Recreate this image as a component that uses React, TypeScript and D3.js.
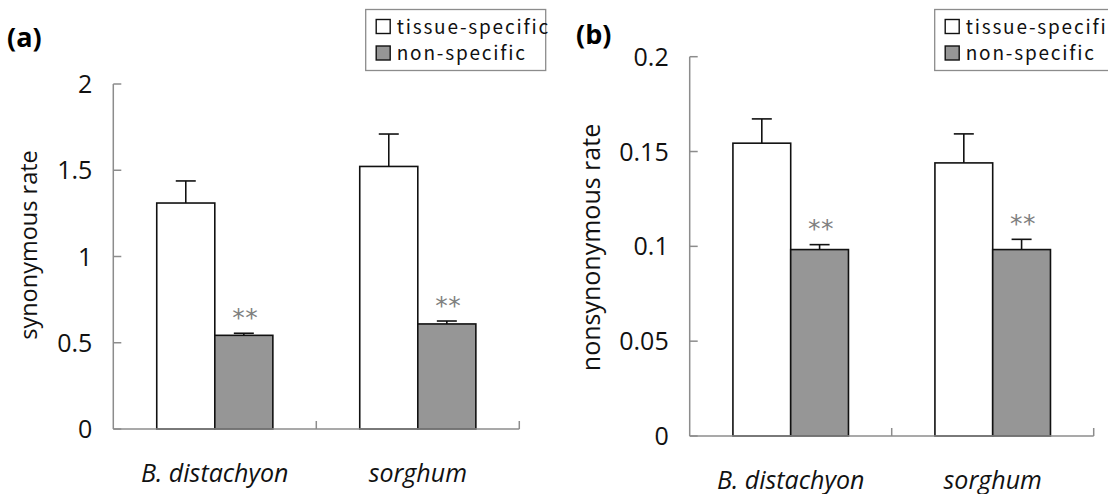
import * as d3 from "d3";

const species = ["B. distachyon", "sorghum"];
const seriesNames = ["tissue-specific", "non-specific"];
const seriesFill = ["#ffffff", "#969696"];

// synonymous rate (a)
const synTissue = [1.31, 1.522];
const synTissueErr = [0.128, 0.188];
const synNon = [0.543, 0.609];
const synNonErr = [0.012, 0.017];
const synTicks = [0, 0.5, 1, 1.5, 2];
const synTickLabels = ["0", "0.5", "1", "1.5", "2"];

// nonsynonymous rate (b)
const nonTissue = [0.1544, 0.144];
const nonTissueErr = [0.0128, 0.0153];
const nonNon = [0.0983, 0.0983];
const nonNonErr = [0.0026, 0.0054];
const nonTicks = [0, 0.05, 0.1, 0.15, 0.2];
const nonTickLabels = ["0", "0.05", "0.1", "0.15", "0.2"];

const signif = ["**", "**"];

const numFont = "'Open Sans', sans-serif";
const legendFont = "'Noto Sans CJK JP', sans-serif";

type PanelProps = {
  tag: string;
  tagX: number;
  tagY: number;
  yTitle: string;
  yTitleX: number;
  yTitleY: number;
  yTitleSize: number;
  x0: number;
  x1: number;
  y0: number;
  yTop: number;
  yMax: number;
  ticks: number[];
  tickLabels: string[];
  values: number[][];
  errors: number[][];
  legendX: number;
};

function Panel(p: PanelProps) {
  const x = d3
    .scaleBand<string>()
    .domain(species)
    .range([p.x0, p.x1])
    .paddingInner(0.428)
    .paddingOuter(0.214);
  const xs = d3
    .scaleBand<string>()
    .domain(seriesNames)
    .range([0, x.bandwidth()]);
  const y = d3.scaleLinear().domain([0, p.yMax]).range([p.y0, p.yTop]);
  const axisColor = "#8c8c8c";
  const catEdges = species.map((_, i) => p.x0 + (i + 1) * x.step());

  return (
    <g>
      <text
        x={p.tagX}
        y={p.tagY}
        fontFamily={numFont}
        fontWeight="bold"
        fontSize={27}
        fill="#000"
      >
        {p.tag}
      </text>

      {/* y axis */}
      <line x1={p.x0} x2={p.x0} y1={y(p.yMax)} y2={y(0)} stroke={axisColor} strokeWidth={1.5} />
      {p.ticks.map((t, i) => (
        <g key={t}>
          <line x1={p.x0} x2={p.x0 + 8} y1={y(t)} y2={y(t)} stroke={axisColor} strokeWidth={1.5} />
          <text
            x={p.x0 - 21}
            y={y(t)}
            dy="0.36em"
            textAnchor="end"
            fontFamily={numFont}
            fontSize={25}
            fill="#111"
          >
            {p.tickLabels[i]}
          </text>
        </g>
      ))}
      <text
        transform={`translate(${p.yTitleX},${p.yTitleY}) rotate(-90)`}
        textAnchor="middle"
        fontFamily={numFont}
        fontSize={p.yTitleSize}
        fill="#111"
      >
        {p.yTitle}
      </text>

      {/* bars */}
      {species.map((s, i) => (
        <g key={s}>
          {seriesNames.map((n, j) => {
            const bx = (x(s) as number) + (xs(n) as number);
            const v = p.values[j][i];
            const top = y(v + p.errors[j][i]);
            const cx = bx + xs.bandwidth() / 2;
            return (
              <g key={n}>
                <line x1={cx} x2={cx} y1={y(v)} y2={top} stroke="#111" strokeWidth={1.6} />
                <line x1={cx - 10} x2={cx + 10} y1={top} y2={top} stroke="#111" strokeWidth={1.6} />
                <rect
                  x={bx}
                  y={y(v)}
                  width={xs.bandwidth()}
                  height={y(0) - y(v)}
                  fill={seriesFill[j]}
                  stroke="#111"
                  strokeWidth={1.6}
                />
                {j === 1 && (
                  <text
                    x={cx + 1.5}
                    y={top - 24}
                    dy="0.66em"
                    textAnchor="middle"
                    fontFamily="'DejaVu Sans', sans-serif"
                    fontSize={25}
                    letterSpacing={0.5}
                    fill="#808080"
                  >
                    {signif[i]}
                  </text>
                )}
              </g>
            );
          })}
          <text
            x={(x(s) as number) + x.bandwidth() / 2}
            y={p.y0 + 52.5}
            textAnchor="middle"
            fontFamily={numFont}
            fontStyle="italic"
            fontSize={25}
            fill="#111"
          >
            {s}
          </text>
        </g>
      ))}

      {/* x axis */}
      <line x1={p.x0} x2={p.x1} y1={y(0)} y2={y(0)} stroke={axisColor} strokeWidth={1.5} />
      {catEdges.map((cx) => (
        <line key={cx} x1={cx} x2={cx} y1={y(0)} y2={y(0) - 8} stroke={axisColor} strokeWidth={1.5} />
      ))}

      {/* legend */}
      <g transform={`translate(${p.legendX},9.5)`}>
        <rect x={0} y={0} width={180} height={61} fill="#fff" stroke={axisColor} strokeWidth={1.3} />
        {seriesNames.map((n, j) => (
          <g key={n} transform={`translate(0,${j * 26.5})`}>
            <rect x={10.5} y={10} width={14} height={14} fill={seriesFill[j]} stroke="#111" strokeWidth={1.4} />
            <text
              x={31}
              y={24}
              fontFamily={legendFont}
              fontSize={19}
              letterSpacing={1.8}
              fill="#111"
            >
              {n}
            </text>
          </g>
        ))}
      </g>
    </g>
  );
}

export default function App() {
  return (
    <svg
      width={1108}
      height={494}
      style={{ position: "absolute", left: 0, top: 0, background: "#fff" }}
    >
      <Panel
        tag="(a)"
        tagX={7}
        tagY={47}
        yTitle="synonymous rate"
        yTitleX={37}
        yTitleY={245}
        yTitleSize={23.5}
        x0={113.3}
        x1={519.3}
        y0={429}
        yTop={84}
        yMax={2}
        ticks={synTicks}
        tickLabels={synTickLabels}
        values={[synTissue, synNon]}
        errors={[synTissueErr, synNonErr]}
        legendX={365.7}
      />
      <Panel
        tag="(b)"
        tagX={576}
        tagY={44}
        yTitle="nonsynonymous rate"
        yTitleX={600}
        yTitleY={247.5}
        yTitleSize={25}
        x0={689.7}
        x1={1093.7}
        y0={436}
        yTop={56.7}
        yMax={0.2}
        ticks={nonTicks}
        tickLabels={nonTickLabels}
        values={[nonTissue, nonNon]}
        errors={[nonTissueErr, nonNonErr]}
        legendX={934.7}
      />
    </svg>
  );
}
